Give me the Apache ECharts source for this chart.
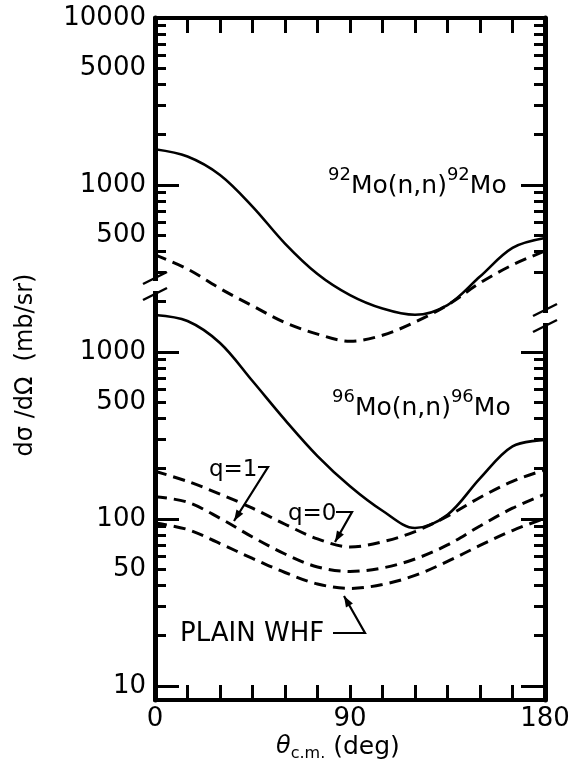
<!DOCTYPE html>
<html>
<head>
<meta charset="utf-8">
<script src="https://cdn.jsdelivr.net/npm/echarts@6/dist/echarts.min.js"></script>
<style>
    html, body { margin: 0; padding: 0; background: #fff; }
    #chart { width: 576px; height: 762px; }
</style>
</head>
<body>
<div id="chart"></div>
<script>
// scattering angle, deg
const angles = [0, 15, 30, 45, 60, 75, 90, 105, 120, 135, 150, 165, 180]

// 92Mo(n,n)92Mo, mb/sr (upper part of the broken axis)
const mo92Solid = [1636, 1481, 1148, 743, 446, 293, 219, 182, 167, 191, 283, 420, 481]
const mo92Dashed = [381, 314, 240, 189, 150, 128, 116, 126, 151, 191, 259, 332, 403]

// 96Mo(n,n)96Mo, mb/sr (lower part)
const mo96Solid = [1666, 1533, 1132, 670, 392, 238, 157, 112, 88.3, 106, 175, 272, 297]
const mo96Q0 = [193, 168, 141, 116, 93, 76, 68, 73, 84, 104, 134.5, 168, 197]
const mo96Q1 = [136, 126, 101, 78, 61.7, 51.6, 48.5, 50.9, 57.6, 69.9, 90.8, 116, 141]
const mo96Plain = [94.6, 86.5, 71.3, 58, 47.8, 40.8, 38.4, 40.5, 45.9, 55.7, 69.4, 85.3, 101]

// axis ticks / labels
const xLabels = [0, 90, 180]
const upperLabels = [500, 1000, 5000, 10000]
const lowerLabels = [10, 50, 100, 500, 1000]
const upperTicks = [300, 400, 500, 600, 700, 800, 900, 1000, 2000, 3000, 4000, 5000, 6000, 7000, 8000, 9000]
const lowerTicks = [10, 20, 30, 40, 50, 60, 70, 80, 90, 100, 200, 300, 400, 500, 600, 700, 800, 900, 1000, 2000]
const upperDecades = [1000]
const lowerDecades = [10, 100, 1000]

// the upper panel sits one decade above the lower one
const SHIFT = 1
const Y_MIN = 0.916
const Y_MAX = 5
const FONT = 'DejaVu Sans'

const pos = (v, shift) => +(Math.log10(v) + shift).toFixed(5)
const curve = (vals, shift) => angles.map((a, i) => [a, pos(vals[i], shift)])

const labelMap = {}
lowerLabels.forEach(v => { labelMap[pos(v, 0).toFixed(3)] = String(v) })
upperLabels.forEach(v => { labelMap[pos(v, SHIFT).toFixed(3)] = String(v) })

const longTicks = lowerDecades.map(v => pos(v, 0)).concat(upperDecades.map(v => pos(v, SHIFT)))
const shortTicks = lowerTicks.filter(v => !lowerDecades.includes(v)).map(v => pos(v, 0))
    .concat(upperTicks.filter(v => !upperDecades.includes(v)).map(v => pos(v, SHIFT)))
const shortTicksRight = shortTicks.filter(p => p < 3.2 || p > 3.4)

function yAx(position, ticks, len, withLine, withLabels) {
    return {
        type: 'value', position, min: Y_MIN, max: Y_MAX,
        axisLine: { show: withLine, lineStyle: { color: '#000', width: 5 } },
        axisTick: { show: true, inside: true, length: len, customValues: ticks, lineStyle: { color: '#000', width: 3 } },
        axisLabel: withLabels ? {
            show: true, customValues: Object.keys(labelMap).map(Number), margin: 9,
            fontFamily: FONT, fontSize: 26, color: '#000',
            formatter: v => labelMap[(+v).toFixed(3)] || ''
        } : { show: false },
        splitLine: { show: false }
    }
}

function xAx(position, withLabels) {
    return {
        type: 'value', position, min: 0, max: 180, interval: 15,
        axisLine: { show: true, lineStyle: { color: '#000', width: 4 } },
        axisTick: { show: true, inside: true, length: 15, lineStyle: { color: '#000', width: 3 } },
        axisLabel: withLabels ? {
            show: true, customValues: xLabels, margin: 6,
            fontFamily: FONT, fontSize: 26, color: '#000',
            formatter: v => xLabels.includes(+v) ? String(v) : ''
        } : { show: false },
        splitLine: { show: false }
    }
}

function lineSeries(data, dashed) {
    return {
        type: 'line', data, smooth: 0.34, showSymbol: false, silent: true,
        xAxisIndex: 0, yAxisIndex: 0,
        lineStyle: { color: '#000', width: dashed ? 3 : 2.6, type: dashed ? [12, 7] : 'solid' }
    }
}

// leader line with a filled arrow head at the last point
function arrow(pts) {
    const [x1, y1] = pts[pts.length - 2]
    const [x2, y2] = pts[pts.length - 1]
    const a = Math.atan2(y2 - y1, x2 - x1)
    const L = 11, W = 4
    const bx = x2 - L * Math.cos(a), by = y2 - L * Math.sin(a)
    const head = [[x2, y2],
        [bx + W * Math.sin(a), by - W * Math.cos(a)],
        [bx - W * Math.sin(a), by + W * Math.cos(a)]]
    return [
        { type: 'polyline', z: 50, shape: { points: pts }, style: { stroke: '#000', lineWidth: 2.2, fill: null } },
        { type: 'polygon', z: 50, shape: { points: head }, style: { fill: '#000' } }
    ]
}

function axisBreak(x, yTop, yBot) {
    return [
        { type: 'rect', z: 60, shape: { x: x - 4, y: yTop + 5, width: 8, height: yBot - yTop - 10 }, style: { fill: '#fff' } },
        { type: 'line', z: 61, shape: { x1: x - 12, y1: yTop + 8, x2: x + 12, y2: yTop - 4 }, style: { stroke: '#000', lineWidth: 2.5 } },
        { type: 'line', z: 61, shape: { x1: x - 12, y1: yBot + 4, x2: x + 12, y2: yBot - 8 }, style: { stroke: '#000', lineWidth: 2.5 } }
    ]
}

const reaction = {
    n: { fontFamily: FONT, fontSize: 25, lineHeight: 40, fill: '#000' },
    s: { fontFamily: FONT, fontSize: 18, verticalAlign: 'top', fill: '#000' }
}

const graphics = [].concat(
    axisBreak(155, 276, 296),
    axisBreak(545, 308, 328),
    [
        { type: 'text', z: 50, style: { x: 328, y: 186, verticalAlign: 'middle', text: '{s|92}{n|Mo(n,n)}{s|92}{n|Mo}', rich: reaction } },
        { type: 'text', z: 50, style: { x: 332, y: 408, verticalAlign: 'middle', text: '{s|96}{n|Mo(n,n)}{s|96}{n|Mo}', rich: reaction } },
        { type: 'text', z: 50, style: { x: 209, y: 470, verticalAlign: 'middle', text: 'q=1', font: '23px "DejaVu Sans"', fill: '#000' } },
        { type: 'text', z: 50, style: { x: 288, y: 514, verticalAlign: 'middle', text: 'q=0', font: '23px "DejaVu Sans"', fill: '#000' } },
        { type: 'text', z: 50, style: { x: 180, y: 634, verticalAlign: 'middle', text: 'PLAIN WHF', font: '26px "DejaVu Sans"', fill: '#000' } },
        {
            type: 'text', z: 50, rotation: Math.PI / 2, x: 26, y: 365,
            style: { x: 0, y: 0, align: 'center', verticalAlign: 'middle', text: 'd\u03c3 /d\u03a9  (mb/sr)', font: '24px "DejaVu Sans"', fill: '#000' }
        },
        {
            type: 'text', z: 50, style: {
                x: 276, y: 747, verticalAlign: 'middle', text: '{t|\u03b8}{s|c.m.}{n| (deg)}',
                rich: {
                    t: { fontFamily: FONT, fontSize: 24, fontStyle: 'italic', lineHeight: 30, fill: '#000' },
                    s: { fontFamily: FONT, fontSize: 16, verticalAlign: 'bottom', fill: '#000' },
                    n: { fontFamily: FONT, fontSize: 25, fill: '#000' }
                }
            }
        }
    ],
    arrow([[258, 467], [268, 467], [234, 521]]),
    arrow([[336, 512], [352, 512], [335, 542]]),
    arrow([[333, 633], [365, 633], [344, 596]])
)

const chart = echarts.init(document.getElementById('chart'))
chart.setOption({
    animation: false,
    backgroundColor: '#fff',
    grid: { left: 155, right: 31, top: 18, bottom: 62 },
    xAxis: [xAx('bottom', true), xAx('top', false)],
    yAxis: [
        yAx('left', longTicks, 24, true, true),
        yAx('left', shortTicks, 11, false, false),
        yAx('right', longTicks, 24, true, false),
        yAx('right', shortTicksRight, 11, false, false)
    ],
    series: [
        lineSeries(curve(mo92Solid, SHIFT), false),
        lineSeries(curve(mo92Dashed, SHIFT), true),
        lineSeries(curve(mo96Solid, 0), false),
        lineSeries(curve(mo96Q0, 0), true),
        lineSeries(curve(mo96Q1, 0), true),
        lineSeries(curve(mo96Plain, 0), true)
    ],
    graphic: graphics
})
</script>
</body>
</html>
